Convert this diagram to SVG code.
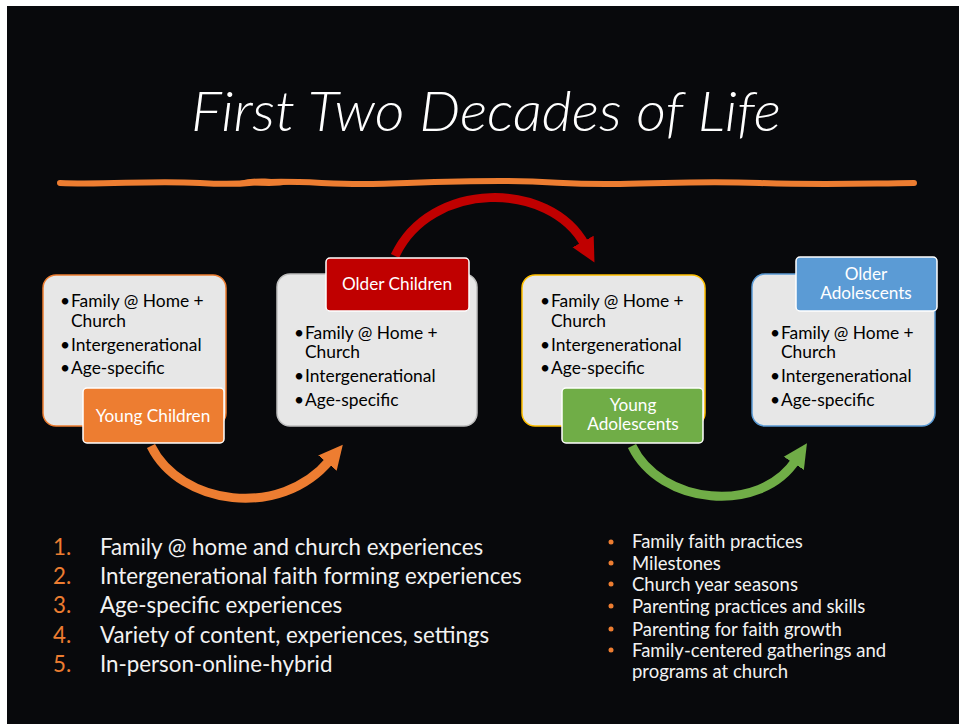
<svg xmlns="http://www.w3.org/2000/svg" width="960" height="724" viewBox="0 0 960 724">
<defs>
<style>
.bg{fill:#08090c}
.card{fill:#e7e7e7;stroke-width:1.5}
.tag{stroke:#ffffff;stroke-width:1.5}
.ct{font-family:Lato,"Liberation Sans",sans-serif;font-size:17.4px;fill:#000}
.tt{font-family:Lato,"Liberation Sans",sans-serif;font-size:17.2px;fill:#fff;text-anchor:middle}
.ls{font-family:Lato,"Liberation Sans",sans-serif;font-size:22.3px;fill:#f2f2f2}
.num{fill:#ed7d31}
.rs{font-family:Lato,"Liberation Sans",sans-serif;font-size:18.5px;fill:#f2f2f2}
.arr{fill:none;stroke-width:9}
</style>
<marker id="hO" markerUnits="userSpaceOnUse" markerWidth="30" markerHeight="30" refX="4" refY="12" orient="auto" viewBox="0 0 30 24"><path d="M0,0 L24,12 L0,24 Z" fill="#ed7d31"/></marker>
<marker id="hR" markerUnits="userSpaceOnUse" markerWidth="30" markerHeight="30" refX="4" refY="12" orient="auto" viewBox="0 0 30 24"><path d="M0,0 L24,12 L0,24 Z" fill="#c00000"/></marker>
<marker id="hG" markerUnits="userSpaceOnUse" markerWidth="30" markerHeight="30" refX="4" refY="12" orient="auto" viewBox="0 0 30 24"><path d="M0,0 L24,12 L0,24 Z" fill="#70ad47"/></marker>
</defs>
<rect x="0" y="0" width="960" height="724" fill="#ffffff"/>
<rect class="bg" x="7" y="6" width="952" height="718"/>
<text x="486" y="131" font-family="Lato,'Open Sans',sans-serif" font-style="italic" font-weight="300" font-size="56" fill="#ffffff" text-anchor="middle" textLength="590" lengthAdjust="spacingAndGlyphs">First Two Decades of Life</text>
<path d="M60,183 C110,185 150,180 200,183 S250,181 270,182 C300,181 330,184 360,184 S440,181 500,181 S560,185 620,184 S700,181 760,183 S840,184 914,183" fill="none" stroke="#ed7d31" stroke-width="6" stroke-linecap="round"/>
<path d="M240,182 C255,178 275,179 290,183 C275,186 255,185 240,182" fill="none" stroke="#ed7d31" stroke-width="2"/>

<g id="connectors">
<path class="arr" stroke="#ed7d31" d="M151,446 C180,505 280,520 330,460" marker-end="url(#hO)"/>
<path class="arr" stroke="#c00000" d="M395,256 C430,180 550,180 585,245" marker-end="url(#hR)"/>
<path class="arr" stroke="#70ad47" d="M632,446 C660,505 760,515 796,460" marker-end="url(#hG)"/>
</g>

<g id="young-children">
<rect class="card" x="43" y="275" width="183" height="151" rx="13" stroke="#ed7d31"/>
<g class="ct"><text x="60" y="307">•</text><text x="60" y="351">•</text><text x="60" y="374">•</text></g>
<text class="ct"><tspan x="71" y="307">Family @ Home +</tspan><tspan x="71" y="327">Church</tspan><tspan x="71" y="351">Intergenerational</tspan><tspan x="71" y="374">Age-specific</tspan></text>
<rect class="tag" x="83" y="388" width="141" height="55" rx="4" fill="#ed7d31"/>
<text class="tt" x="153" y="422">Young Children</text>
</g>

<g id="older-children">
<rect class="card" x="277" y="274" width="200" height="152" rx="13" stroke="#bfbfbf"/>
<g class="ct"><text x="294" y="339">•</text><text x="294" y="382">•</text><text x="294" y="406">•</text></g>
<text class="ct"><tspan x="305" y="339">Family @ Home +</tspan><tspan x="305" y="358">Church</tspan><tspan x="305" y="382">Intergenerational</tspan><tspan x="305" y="406">Age-specific</tspan></text>
<rect class="tag" x="326" y="258" width="143" height="53" rx="4" fill="#c00000"/>
<text class="tt" x="397" y="290">Older Children</text>
</g>

<g id="young-adolescents">
<rect class="card" x="522" y="275" width="183" height="151" rx="13" stroke="#ffc000"/>
<g class="ct"><text x="540" y="307">•</text><text x="540" y="351">•</text><text x="540" y="374">•</text></g>
<text class="ct"><tspan x="551" y="307">Family @ Home +</tspan><tspan x="551" y="327">Church</tspan><tspan x="551" y="351">Intergenerational</tspan><tspan x="551" y="374">Age-specific</tspan></text>
<rect class="tag" x="562" y="388" width="141" height="55" rx="4" fill="#70ad47"/>
<text class="tt"><tspan x="633" y="411">Young</tspan><tspan x="633" y="430">Adolescents</tspan></text>
</g>

<g id="older-adolescents">
<rect class="card" x="752" y="274" width="183" height="152" rx="13" stroke="#5b9bd5"/>
<g class="ct"><text x="770" y="339">•</text><text x="770" y="382">•</text><text x="770" y="406">•</text></g>
<text class="ct"><tspan x="781" y="339">Family @ Home +</tspan><tspan x="781" y="358">Church</tspan><tspan x="781" y="382">Intergenerational</tspan><tspan x="781" y="406">Age-specific</tspan></text>
<rect class="tag" x="796" y="257" width="141" height="54" rx="4" fill="#5b9bd5"/>
<text class="tt"><tspan x="866" y="280">Older</tspan><tspan x="866" y="299">Adolescents</tspan></text>
</g>

<g id="numbered-list">
<text class="ls num" x="53" y="555">1.</text><text class="ls" x="100" y="555">Family @ home and church experiences</text>
<text class="ls num" x="53" y="584">2.</text><text class="ls" x="100" y="584">Intergenerational faith forming experiences</text>
<text class="ls num" x="53" y="613">3.</text><text class="ls" x="100" y="613">Age-specific experiences</text>
<text class="ls num" x="53" y="643">4.</text><text class="ls" x="100" y="643">Variety of content, experiences, settings</text>
<text class="ls num" x="53" y="672">5.</text><text class="ls" x="100" y="672">In-person-online-hybrid</text>
</g>

<g id="bullet-list">
<g fill="#ed7d31"><circle cx="611" cy="542" r="2.5"/><circle cx="611" cy="563" r="2.5"/><circle cx="611" cy="584" r="2.5"/><circle cx="611" cy="606" r="2.5"/><circle cx="611" cy="629" r="2.5"/><circle cx="611" cy="650" r="2.5"/></g>
<text class="rs" x="632" y="548">Family faith practices</text>
<text class="rs" x="632" y="570">Milestones</text>
<text class="rs" x="632" y="591">Church year seasons</text>
<text class="rs" x="632" y="613">Parenting practices and skills</text>
<text class="rs" x="632" y="636">Parenting for faith growth</text>
<text class="rs" x="632" y="657">Family-centered gatherings and</text>
<text class="rs" x="632" y="678">programs at church</text>
</g>
</svg>
